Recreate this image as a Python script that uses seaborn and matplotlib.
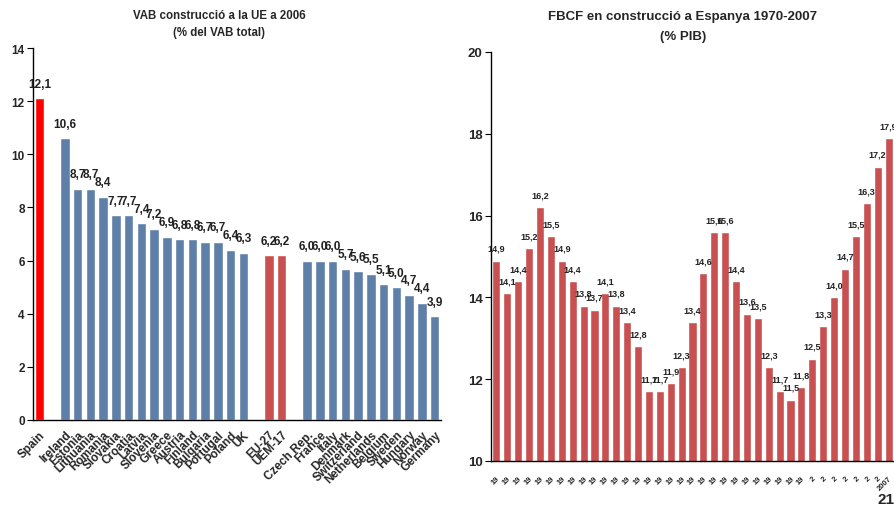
import matplotlib
matplotlib.use("Agg")
import matplotlib.pyplot as plt
import seaborn as sns
import pandas as pd
import numpy as np

sns.set_theme(style="white")
plt.rcParams['font.family'] = ['Liberation Sans', 'DejaVu Sans']

# ---------------- data: left chart ----------------
countries_a = ["Spain"]
values_a = [12.1]
countries_b = ["Ireland", "Estonia", "Lithuania", "Romania", "Slovakia", "Croatia",
               "Latvia", "Slovenia", "Greece", "Austria", "Finland", "Bulgaria",
               "Portugal", "Poland", "UK"]
values_b = [10.6, 8.7, 8.7, 8.4, 7.7, 7.7, 7.4, 7.2, 6.9, 6.8, 6.8, 6.7, 6.7, 6.4, 6.3]
aggregates = ["EU-27", "UEM-17"]
values_agg = [6.2, 6.2]
countries_c = ["Czech Rep.", "France", "Italy", "Denmark", "Switzerland", "Netherlands",
               "Belgium", "Sweden", "Hungary", "Norway", "Germany"]
values_c = [6.0, 6.0, 6.0, 5.7, 5.6, 5.5, 5.1, 5.0, 4.7, 4.4, 3.9]

# ---------------- data: right chart ----------------
years = list(range(1971, 2008))
fbcf = [14.9, 14.1, 14.4, 15.2, 16.2, 15.5, 14.9, 14.4, 13.8, 13.7, 14.1, 13.8, 13.4,
        12.8, 11.7, 11.7, 11.9, 12.3, 13.4, 14.6, 15.6, 15.6, 14.4, 13.6, 13.5, 12.3,
        11.7, 11.5, 11.8, 12.5, 13.3, 14.0, 14.7, 15.5, 16.3, 17.2, 17.9]
year_labels = ["19"] * 29 + ["2"] * 7 + ["2007"]

# colours
C_SPAIN = "#FF0000"
C_BLUE = "#5E80A8"
C_RED = "#C85050"

def fmt(v):
    return f"{v:.1f}".replace(".", ",")

# ---------------- build left dataframe ----------------
groups = [(countries_a, values_a, C_SPAIN), (countries_b, values_b, C_BLUE),
          (aggregates, values_agg, C_RED), (countries_c, values_c, C_BLUE)]
rows = []
palette = {}
order = []
for gi, (names, vals, col) in enumerate(groups):
    if gi > 0:
        order.append(" " * gi)  # empty slot
    for n, v in zip(names, vals):
        rows.append({"country": n, "value": v})
        palette[n] = col
        order.append(n)
df_left = pd.DataFrame(rows)

df_right = pd.DataFrame({"year": [str(y) for y in years], "value": fbcf})

fig = plt.figure(figsize=(8.94, 5.10), dpi=100)

# ---------------- left axes ----------------
axL = fig.add_axes([33 / 894, 1 - 421 / 510, 408 / 894, (421 - 49) / 510])
sns.barplot(data=df_left, x="country", y="value", hue="country", order=order,
            palette=palette, saturation=1, width=0.76, legend=False, ax=axL)
N = len(order)
axL.set_xlim(-0.5, N - 0.5)
axL.set_ylim(0, 14)
axL.set_yticks(np.arange(0, 15, 2))
axL.set_yticklabels([str(t) for t in range(0, 15, 2)], fontsize=8.5, fontweight="bold")
axL.set_xticks(range(N))
axL.set_xticklabels(order, rotation=45, ha="right", rotation_mode="anchor",
                    fontsize=8.5, fontweight="bold")
axL.set_xticks(np.arange(-0.5, N, 1), minor=True)
axL.tick_params(axis="x", which="major", length=0, pad=6)
axL.tick_params(axis="x", which="minor", length=3, width=0.8, color="black", direction="out")
axL.tick_params(axis="y", length=4, width=0.8, color="black", direction="out", left=True, pad=2)
axL.set_xlabel("")
axL.set_ylabel("")
for s in ["top", "right"]:
    axL.spines[s].set_visible(False)
for s in ["left", "bottom"]:
    axL.spines[s].set_color("black")
    axL.spines[s].set_linewidth(1.0)
for _, r in df_left.iterrows():
    i = order.index(r["country"])
    axL.text(i, r["value"] + 0.55, fmt(r["value"]), ha="center", va="center",
             fontsize=8.5, fontweight="bold", color="#222222")
fig.text(219 / 894, 1 - 16 / 510, "VAB construcció a la UE a 2006", ha="center", va="center",
         fontsize=8.3, fontweight="bold")
fig.text(219 / 894, 1 - 33 / 510, "(% del VAB total)", ha="center", va="center",
         fontsize=8.3, fontweight="bold")

# ---------------- right axes ----------------
axR = fig.add_axes([491 / 894, 1 - 462 / 510, 403 / 894, (462 - 53) / 510])
sns.barplot(data=df_right, x="year", y="value", color=C_RED, saturation=1,
            width=0.74, ax=axR)
M = len(years)
axR.set_xlim(-0.5, M - 0.5)
axR.set_ylim(10, 20)
axR.set_yticks(np.arange(10, 21, 2))
axR.set_yticklabels([str(t) for t in range(10, 21, 2)], fontsize=9.5, fontweight="bold")
axR.set_xticks(range(M))
axR.set_xticklabels(year_labels, rotation=45, ha="right", rotation_mode="anchor",
                    fontsize=5.5, fontweight="bold")
axR.set_xticks(np.arange(-0.5, M, 1), minor=True)
axR.tick_params(axis="x", which="major", length=0, pad=10)
axR.tick_params(axis="x", which="minor", length=3, width=0.8, color="black", direction="out")
axR.tick_params(axis="y", length=4, width=0.8, color="black", direction="out", left=True, pad=2)
axR.set_xlabel("")
axR.set_ylabel("")
for s in ["top", "right"]:
    axR.spines[s].set_visible(False)
for s in ["left", "bottom"]:
    axR.spines[s].set_color("black")
    axR.spines[s].set_linewidth(1.0)
for i, v in enumerate(fbcf):
    axR.text(i, v + 0.3, fmt(v), ha="center", va="center", fontsize=6.5,
             fontweight="bold", color="#222222")
fig.text(683 / 894, 1 - 17 / 510, "FBCF en construcció a Espanya 1970-2007", ha="center",
         va="center", fontsize=9.5, fontweight="bold")
fig.text(683 / 894, 1 - 37 / 510, "(% PIB)", ha="center", va="center",
         fontsize=9.5, fontweight="bold")

fig.text(894 / 894, 1 - 500 / 510, "21", ha="right", va="center", fontsize=11, fontweight="bold")

fig.savefig("out.png", dpi=100)
